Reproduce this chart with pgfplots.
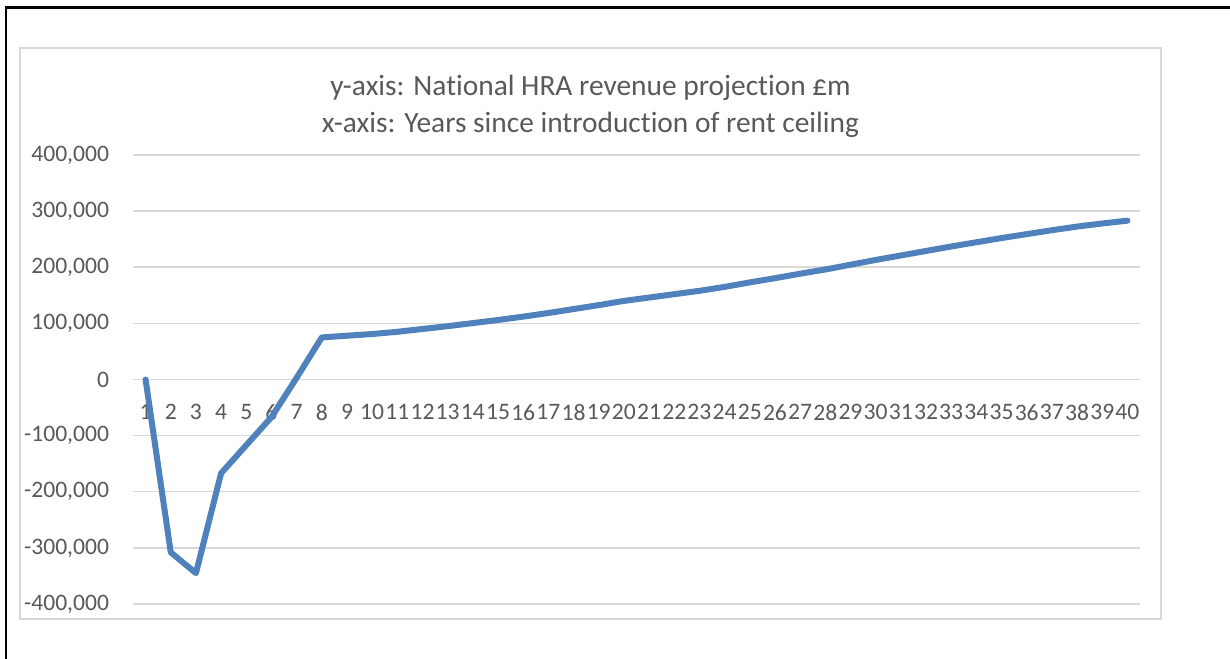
\documentclass[border=0pt]{standalone}
\usepackage{fontspec}
\setmainfont{Carlito}[Ligatures={NoCommon}]
\usepackage{pgfplots}
\pgfplotsset{compat=1.18}
\definecolor{txtgray}{HTML}{595959}
\definecolor{gridgray}{HTML}{D9D9D9}
\definecolor{serieblue}{HTML}{4F81BD}
\begin{document}
\begin{tikzpicture}[x=1pt,y=1pt]
\useasboundingbox (0,0) rectangle (615,329);
\draw[line width=1.2pt] (2.85,-2) -- (2.85,325.15) -- (620,325.15);
\draw[gridgray, line width=0.8pt] (10,19.5) rectangle (580.5,305);
\node[text=txtgray, align=center, font=\fontsize{14.7}{18.5}\selectfont] at (295.25,275.75)
  {y-axis: National HRA revenue projection £m\\x-axis: Years since introduction of rent ceiling};
\begin{axis}[
  at={(66.5pt,27pt)}, anchor=south west,
  scale only axis, width=503.5pt, height=224.5pt,
  xmin=0.5, xmax=40.5, ymin=-400000, ymax=400000,
  axis line style={draw=none}, major tick length=0pt,
  ytick={-400000,-300000,-200000,-100000,0,100000,200000,300000,400000},
  yticklabels={{-400,000},{-300,000},{-200,000},{-100,000},0,{100,000},{200,000},{300,000},{400,000}},
  scaled y ticks=false,
  xtick={1,...,40},
  ymajorgrids, grid style={gridgray, line width=0.75pt},
  /pgf/number format/assume math mode=true,
  tick label style={font=\fontsize{11.8}{14}\selectfont, text=txtgray},
  yticklabel style={anchor=east, inner sep=0pt, xshift=-11.8pt},
  xticklabel style={anchor=north, inner sep=0pt, yshift=100pt},
]
\addplot[color=serieblue, line width=3pt, line join=round, line cap=round, mark=none] coordinates {
(1,0) (2,-308000) (3,-345000) (4,-167000) (5,-117000) (6,-67000) (7,3000) (8,75000)
(9,78000) (10,81000) (11,85000) (12,90000) (13,95000) (14,100500) (15,106000) (16,112000)
(17,118500) (18,125500) (19,132500) (20,140000) (21,146000) (22,152000) (23,158000) (24,165000)
(25,173000) (26,180500) (27,188500) (28,196000) (29,204500) (30,213000) (31,221000) (32,229000)
(33,237000) (34,244500) (35,252000) (36,259000) (37,266000) (38,272500) (39,278000) (40,283000)
};
\end{axis}
\end{tikzpicture}
\end{document}
